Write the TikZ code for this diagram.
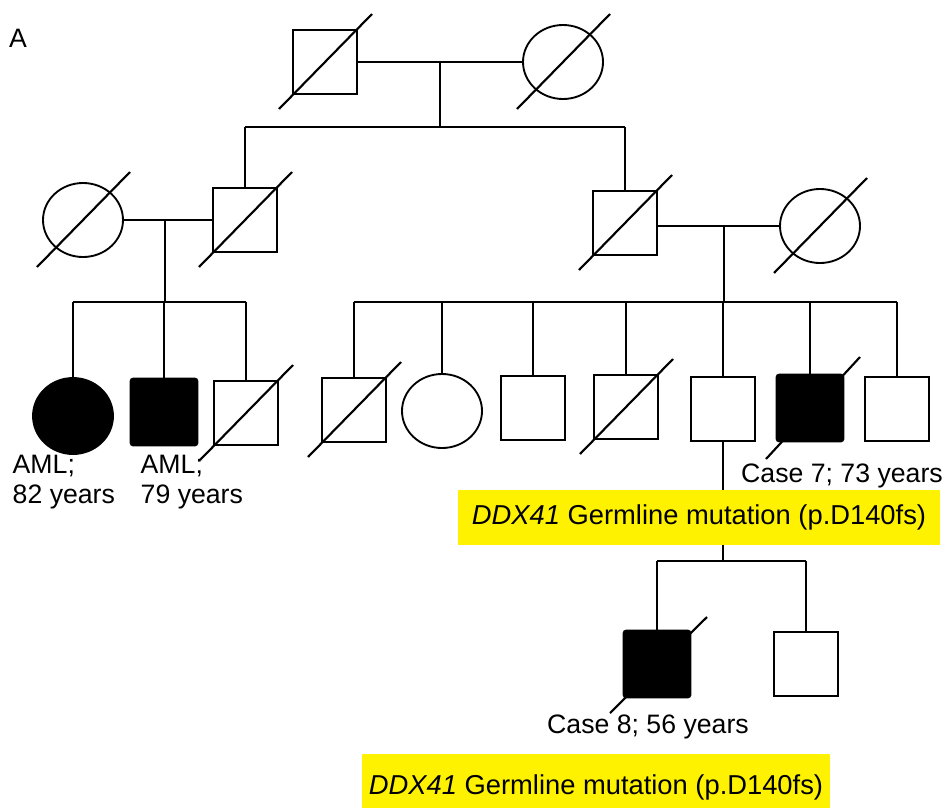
\documentclass[tikz,border=0pt]{standalone}
\usepackage{fontspec}
\setmainfont{Liberation Sans}
\usetikzlibrary{shapes.geometric,calc}
\begin{document}
\begin{tikzpicture}[x=0.75pt,y=-0.75pt,
  every node/.style={font=\fontsize{20}{22.5}\selectfont},
  ln/.style={line width=1.6pt},
  sq/.style={draw,line width=1.6pt,rectangle,minimum width=48pt,minimum height=48pt,inner sep=0pt},
  fsq/.style={sq,fill=black,rounded corners=2pt,minimum width=50pt,minimum height=50pt},
  circ/.style={draw,line width=1.4pt,ellipse,minimum width=60pt,minimum height=55.5pt,inner sep=0pt},
  fcirc/.style={circ,fill=black},
  ybox/.style={fill=yellow,minimum width=361.5pt,minimum height=41.25pt,inner sep=0pt,font=\fontsize{20.5}{23}\selectfont}]
\useasboundingbox (0,0) rectangle (945,807);
\newcommand{\deadmark}[1]{\draw[ln] ($(#1.center)+(-46,47)$) -- ($(#1.center)+(47,-48)$);}
% Generation I
\node[sq] (gf) at (325,62) {};
\node[circ] (gm) at (563,62) {};
\deadmark{gf}\deadmark{gm}
\coordinate (m1) at (440,62);
\coordinate (s1) at (440,127);
\draw[ln] (gf.east) -- (gm.west);
\draw[ln] (m1) -- (s1);
% Generation II
\node[circ] (lw) at (83,220) {};
\node[sq] (lm) at (245,220) {};
\node[sq] (rm) at (625,223) {};
\node[circ] (rw) at (820,226) {};
\deadmark{lw}\deadmark{lm}\deadmark{rm}\deadmark{rw}
\draw[ln] (lm.north |- s1) -- (rm.north |- s1);
\draw[ln] (lm.north |- s1) -- (lm.north);
\draw[ln] (rm.north |- s1) -- (rm.north);
\draw[ln] (lw.east) -- (lm.west);
\draw[ln] (rm.east |- 0,226) -- (rw.west);
\coordinate (m2) at (165,220);
\coordinate (s2) at (165,302);
\coordinate (m3) at (724,226);
\coordinate (s3) at (724,302);
\draw[ln] (m2) -- (s2);
\draw[ln] (m3) -- (s3);
% Generation III left
\node[fcirc,minimum height=57pt] (c1) at (73,416) {};
\node[fsq] (c2) at (164,412) {};
\node[sq] (c3) at (246,413) {};
\deadmark{c3}
\draw[ln] (c1.north |- s2) -- (c3.north |- s2);
\foreach \n in {c1,c2,c3}{\draw[ln] (\n.north |- s2) -- (\n.north);}
% Generation III right
\node[sq] (d1) at (354,410) {};
\node[circ] (d2) at (442,411) {};
\node[sq] (d3) at (533,408) {};
\node[sq] (d4) at (626,407) {};
\node[sq] (d5) at (723,409) {};
\node[fsq] (d6) at (810,408) {};
\node[sq] (d7) at (897,409) {};
\deadmark{d1}\deadmark{d4}
\draw[ln] ($(d6.center)+(-44,51)$) -- ($(d6.center)+(50,-51)$);
\draw[ln] (d1.north |- s3) -- (d7.north |- s3);
\foreach \n in {d1,d2,d3,d4,d5,d6,d7}{\draw[ln] (\n.north |- s3) -- (\n.north);}
\node (l1) [anchor=north west,align=left] at (8,450) {AML;\\82 years};
\node (l2) [anchor=north west,align=left] at (136,450) {AML;\\79 years};
\node (l7) at (842,476) {Case 7; 73 years};
% mutation box 1
\node[ybox] (b1) at (699,517.5) {\textit{DDX41} Germline mutation (p.D140fs)};
\coordinate (s4) at (723,561);
\draw[ln] (d5.south) -- (d5.south |- b1.north);
\draw[ln] (d5.south |- b1.south) -- (s4);
% Generation IV
\node[fsq] (e1) at (657,664) {};
\node[sq] (e2) at (806,664) {};
\draw[ln] ($(e1.center)+(-47,49)$) -- ($(e1.center)+(50,-47)$);
\draw[ln] (e1.north |- s4) -- (e2.north |- s4);
\draw[ln] (e1.north |- s4) -- (e1.north);
\draw[ln] (e2.north |- s4) -- (e2.north);
\node (l8) at (648,727) {Case 8; 56 years};
\node[ybox,minimum width=351pt,minimum height=50pt] (b2) at (596,787) {\textit{DDX41} Germline mutation (p.D140fs)};
\node (lbA) at (18,38) {A};
\end{tikzpicture}
\end{document}
